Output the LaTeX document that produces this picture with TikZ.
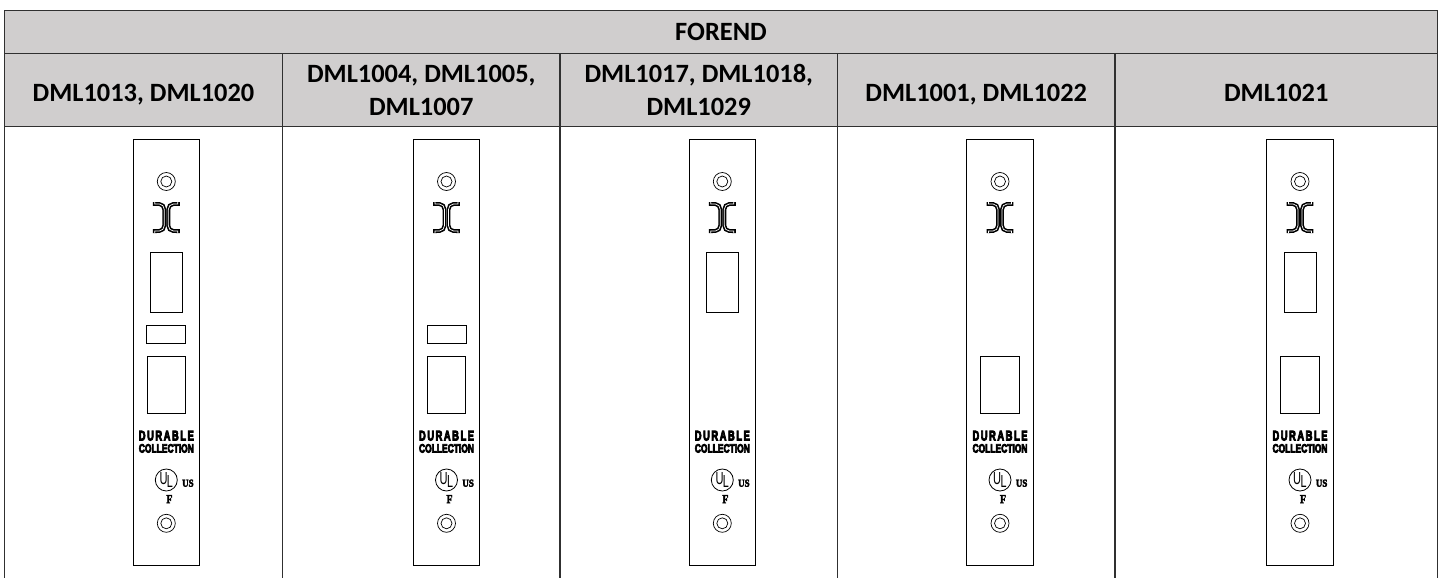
\documentclass[tikz,border=0pt]{standalone}
\usepackage{fontspec}
\setmainfont{Carlito}
\newfontfamily\stampfont[BoldFeatures={FakeBold=7,LetterSpace=16}]{Liberation Sans}
\newfontfamily\listfont[BoldFeatures={FakeBold=7}]{Liberation Sans}
\newfontfamily\ulfont{Liberation Sans}
\newfontfamily\markfont[BoldFeatures={FakeBold=4}]{Liberation Serif}
\newcommand{\onerow}[2]{\raisebox{#1}[0pt][0pt]{#2}}
\usetikzlibrary{positioning}
\definecolor{headgrey}{HTML}{D0CECE}
\definecolor{rulegrey}{HTML}{303030}
\tikzset{
  head/.style={draw=rulegrey, line width=1.1pt, fill=headgrey, inner sep=0pt, outer sep=0pt,
    minimum height=73pt, align=center, font=\fontsize{26.4}{33}\selectfont\bfseries},
  rulev/.style={draw=rulegrey, line width=1.1pt},
  plate/.style={draw, line width=.8pt, minimum width=66.4pt, minimum height=426pt, inner sep=0pt},
  upperwin/.style={draw, line width=.8pt, minimum width=32pt, minimum height=60.5pt, inner sep=0pt},
  smallwin/.style={draw, line width=.8pt, minimum width=39pt, minimum height=18.5pt, inner sep=0pt},
  lowerwin/.style={draw, line width=.8pt, minimum width=38.5pt, minimum height=57pt, inner sep=0pt},
  screwout/.style={circle, draw, line width=.7pt, minimum size=18pt, inner sep=0pt},
  screwin/.style={circle, draw, line width=.7pt, minimum size=11pt, inner sep=0pt},
  ulring/.style={circle, draw, line width=.8pt, minimum size=22pt, inner sep=0pt},
  logoline/.style={line width=1.6pt, double=white, double distance=.7pt},
  stamp/.style={inner sep=0pt},
}
\begin{document}
\begin{tikzpicture}[x=1pt, y=-1pt]
  \useasboundingbox (0,0) rectangle (1441,578);
  \coordinate (low) at (0,578);
  \node[head, anchor=north west, minimum width=1433pt, minimum height=43pt] (title) at (4.5,10.5) {\onerow{-8.5pt}{FOREND}};
  \node[head, anchor=north west, minimum width=278pt] (h1) at (title.south west) {\onerow{-11.5pt}{DML1013, DML1020}};
  \node[head, minimum width=277.5pt] (h2) [right=0pt of h1] {DML1004, DML1005,\\DML1007};
  \node[head, minimum width=277.5pt] (h3) [right=0pt of h2] {DML1017, DML1018,\\DML1029};
  \node[head, minimum width=277.5pt] (h4) [right=0pt of h3] {\onerow{-11.5pt}{DML1001, DML1022}};
  \node[head, minimum width=322.5pt] (h5) [right=0pt of h4] {\onerow{-11.5pt}{DML1021}};
  \draw[rulev] (h1.south west) -- (h1.south west |- low);
  \foreach \n in {1,...,5}
    \draw[rulev] (h\n.south east) -- (h\n.south east |- low);
  % the parts every forend has
  \foreach \n/\cx in {1/166.3, 2/446.5, 3/722.3, 4/1000, 5/1300} {
    \node[plate] (p\n) at (\cx,352.3) {};
    \node[screwout] (st\n) at (\cx,181.5) {};
    \node[screwin] (sti\n) at (st\n) {};
    \node[screwout] (sb\n) at (\cx,523.3) {};
    \node[screwin] (sbi\n) at (sb\n) {};
    \begin{scope}[shift={(\cx,217.5)}]
      \draw[logoline] (-11.5,-15.5) -- (-11.5,-13.5) -- (-7,-13.5) to[out=0, in=90] (-2,-8) -- (-2,8) to[out=-90, in=0] (-7,13.5) -- (-11.5,13.5) -- (-11.5,15.5);
      \draw[logoline] (11.5,-15.5) -- (11.5,-13.5) -- (7,-13.5) to[out=180, in=90] (2,-8) -- (2,8) to[out=-90, in=180] (7,13.5) -- (11.5,13.5) -- (11.5,15.5);
    \end{scope}
    \node[stamp] (dur\n) at (\cx,435.7) {\resizebox{55pt}{9.6pt}{\stampfont\bfseries DURABLE}};
    \node[stamp] (col\n) at (\cx,448.4) {\resizebox{55pt}{8.4pt}{\listfont\bfseries COLLECTION}};
    \node[ulring] (ul\n) at (\cx,480) {};
    \node[stamp] (ulu\n) at ([shift={(-2.8,-1.4)}]ul\n) {\resizebox{8pt}{12pt}{\ulfont U}};
    \node[stamp] (ull\n) at ([shift={(3.6,1.8)}]ul\n) {\resizebox{6pt}{12pt}{\ulfont L}};
    \node[stamp] (us\n) at ([shift={(21.6,3.2)}]ul\n) {\resizebox{11.5pt}{7pt}{\markfont\bfseries US}};
    \node[stamp] (f\n) at ([shift={(3,19.2)}]ul\n) {\resizebox{6pt}{8pt}{\markfont\bfseries F}};
  }
  % openings differ per model
  \node[upperwin] (up1) at (166.3,282.2) {};
  \node[upperwin] (up3) at (722.3,282.2) {};
  \node[upperwin] (up5) at (1300,282.2) {};
  \node[smallwin] (sm1) at (166.3,334.2) {};
  \node[smallwin] (sm2) at (446.5,334.2) {};
  \node[lowerwin] (lo1) at (166.3,385) {};
  \node[lowerwin] (lo2) at (446.5,385) {};
  \node[lowerwin] (lo4) at (1000,385) {};
  \node[lowerwin] (lo5) at (1300,385) {};
\end{tikzpicture}
\end{document}
